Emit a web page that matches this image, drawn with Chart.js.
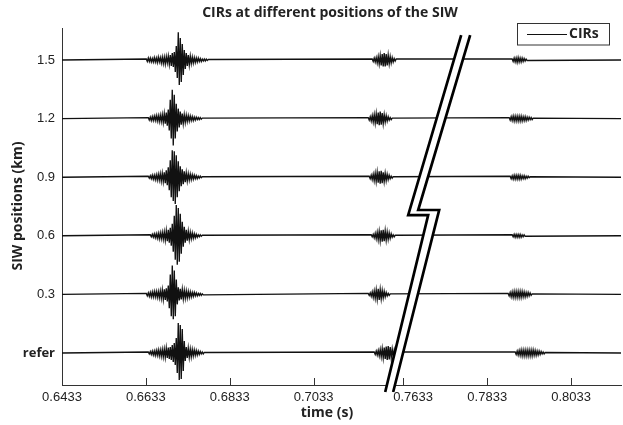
<!DOCTYPE html>
<html><head><meta charset="utf-8">
<script src="https://cdn.jsdelivr.net/npm/chart.js@4/dist/chart.umd.min.js"></script>
<style>html,body{margin:0;padding:0;background:#fff}canvas{display:block}</style>
</head><body>
<canvas id="c" width="623" height="425"></canvas>
<script>
// ---------- text ----------
const titleText = 'CIRs at different positions of the SIW';
const xTitle = 'time (s)';
const yTitle = 'SIW positions (km)';
const legendLabel = 'CIRs';

// ---------- axes ----------
const xTickValues = [0.6433, 0.6633, 0.6833, 0.7033, 0.7633, 0.7833, 0.8033];
const xTickLabels = ['0.6433', '0.6633', '0.6833', '0.7033', '0.7633', '0.7833', '0.8033'];
const yTickValues = [0, 0.3, 0.6, 0.9, 1.2, 1.5];
const yTickLabels = ['refer', '0.3', '0.6', '0.9', '1.2', '1.5'];
const timeStart = 0.6433, timeEnd = 0.8152;   // s
const breakFrom = 0.7247, breakTo = 0.7633;   // broken time axis (s)
const yMin = -0.164, yMax = 1.664;

// ---------- traces (order = yTickValues: refer, 0.3, 0.6, 0.9, 1.2, 1.5) ----------
const sampleDt = 0.0002384;   // s between samples
const ampGain = 0.0051;       // km per amplitude unit
const positions = [0, 0.3, 0.6, 0.9, 1.2, 1.5];

const mainStart = [0.66387, 0.66340, 0.66435, 0.66387, 0.66387, 0.66340];
const mainRef = [1,-1,1.5,-1.5,2, -2,2,-2.5,2.5,-2.5, 3,-3,3,-3.5,3.5, -4,4,-4.5,5,-5, 5.5,-6,6,-7,8, -9,10,-12,15, -20,30, -27,28,-26, 24,-18,12,-8, 6,-5,5,-4.5,4, -4,3.5,-3,3,-2.5, 2.5,-2,2,-1.5,1.5, -1,1,-1,0.5];
const main03 = [1,-1.5,1.5,-2,2, -2.5,2.5,-2.5,3,-2.5, 3,-3,3,-3.5,3.5, -4,4.5,-5,5,-5.5, 6,-7,9, -14,20,-22,29, -25,24,-22, 15,-10,7,-6,5.5, -5,5,-4.5,4,-4, 3.5,-3.5,3,-3,2.5, -2.5,2,-2,2,-1.5, 1.5,-1.5,1,-1,1, -1,0.5,-0.5];
const main06 = [1,-1,1.5,-1.5,2, -2,2,-2.5,2.5,-3, 3,-3,3.5,-3.5,4, -4.5,5,-5.5,6,-7, 8,-10,12,-16,20, -24,31, -29,28,-26,22, -18,14,-11,9,-7, 6,-5,4.5,-4,3.5, -3,3,-2.5,2,-2, 1.5,-1.5,1,-1,1, -0.5,0.5];
const main09 = [1,-1,1.5,-1.5,2, -2,2,-2.5,2.5,-3, 3,-3,3.5,-4,4, -4.5,5,-6,7,-8, 10,-13,17,-20,27, -24,26,-27, 22,-20,16,-14,11, -9,8,-7,6,-5, 4.5,-4,3.5,-3,3, -2.5,2.5,-2,2,-1.5, 1.5,-1.5,1,-1,1, -0.5,0.5];
const main12 = [1,-1.5,1.5,-2,2, -2,2.5,-2,3,-2.5, 3,-3,3.5,-3,4, -4,5,-5,6,-7, 9,-12,19, -20,29, -27,24,-20, 15,-13,10,-9,7, -6,5,-5,4,-4, 3.5,-3,3,-2.5,2.5, -2,2,-2,1.5,-1.5, 1.5,-1,1,-1,1, -0.5,0.5];
const main15 = [1,-1.5,2,-1.5,2,-2,1.5,-2,2.5,-2, 2,-2.5,3,-2,2.5, -3,3,-3.5,3,-4, 3.5,-3,4,-4.5,5, -6,7,-7,8, -12, 14,-18,28,-25, 22,-22,16,-15,10, -9,7,-6,5,-5, 4,-3.5,3,-3,2.5, -2.5,2,-2,2,-1.5, 1.5,-1.5,1,-1,1, -1,1,-0.5,0.5];

const echoStart = [0.71775, 0.71632, 0.71703, 0.71655, 0.71632, 0.71727];
const echoRef = [1,-1.5,2,-2,2.5,-3,3.5,-4,4.5,-5,5.5,-6,6.5,-7,7,-6.5,6,-5,4,-3.5,3,-2.5,2,-1.5,1];
const echo03 = [1,-1,1.5,-2,2.5,-3,3.5,-4,4.5,-5,5.5,-5.5,5,-4.5,4,-3.5,3,-2.5,2,-1.5,1,-1,0.5];
const echo06 = [1,-1,1.5,-2,2.5,-3,3.5,-4,4.5,-5,5.5,-6,6,-5.5,5,-4.5,4,-3.5,3,-2.5,2,-1.5,1,-1,0.5];
const echo09 = [1,-1.5,2,-2.5,3,-3.5,4,-4.5,5,-5.5,6,-6.5,6.5,-6,5,-4.5,4,-3.5,3,-2.5,2,-1.5,1,-1,0.5];
const echo12 = [1,-1.5,2,-2.5,3,-3.5,4,-4.5,5,-5.5,6,-6.5,7,-6,5.5,-5,4,-3.5,3,-2.5,2,-1.5,1,-1,0.5];
const echo15 = [1,-1.5,2,-2,2.5,-3,3.5,-4,4.5,-5.5,6,-6.5,7,-6.5,6,-5.5,5,-4,3.5,-3,2.5,-2,1.5,-1,1];

const lateStart = [0.78996, 0.78829, 0.78924, 0.78877, 0.78853, 0.78924];
const lateRef = [1,-1.5,2,-2,2.5,-2.5,3,-3,3,-3,3,-3,3,-3,3,-3,3,-3,3,-2.5,2.5,-2.5,2,-2,2,-1.5,1.5,-1,1,-1,0.5];
const late03 = [1,-1.5,2,-2.5,2.5,-3,3,-3,3,-3,3,-3,3,-3,3,-2.5,2.5,-2.5,2,-2,2,-1.5,1.5,-1,0.5];
const late06 = [1,-1,1.5,-1.5,1.5,-1.5,1.5,-1.5,1.5,-1.5,1,-1,1,-0.5];
const late09 = [1,-1.5,1.5,-2,2,-2,2,-2,2,-2,2,-2,1.5,-1.5,1.5,-1.5,1,-1,1,-0.5,0.5];
const late12 = [1,-1.5,2,-2,2.5,-2.5,2.5,-2.5,2.5,-2.5,2.5,-2.5,2.5,-2.5,2,-2,2,-2,1.5,-1.5,1.5,-1,1,-1,0.5];
const late15 = [1,-1.5,2,-2,2,-2.5,2.5,-2,2,-2,2,-1.5,1.5,-1,1,-0.5];

// break mark, in axis units (x: plotted time axis, y: km)
const breakLeftX  = [0.73849, 0.72585, 0.73062, 0.72037];
const breakLeftY  = [1.628, 0.706, 0.706, -0.200];
const breakRightX = [0.74063, 0.72824, 0.73324, 0.72227];
const breakRightY = [1.628, 0.732, 0.732, -0.200];

// ---------- build ----------
function toAxis(t) { return t >= breakTo ? t - (breakTo - breakFrom) : t; }
const mains = [mainRef, main03, main06, main09, main12, main15];
const echoes = [echoRef, echo03, echo06, echo09, echo12, echo15];
const lates = [lateRef, late03, late06, late09, late12, late15];

function buildTrace(k) {
  const off = positions[k];
  const pts = [{x: toAxis(timeStart), y: off}];
  [[mainStart[k], mains[k]], [echoStart[k], echoes[k]], [lateStart[k], lates[k]]].forEach(([t0, s]) => {
    s.forEach((a, i) => pts.push({x: toAxis(t0 + i * sampleDt), y: off + a * ampGain}));
  });
  pts.push({x: toAxis(timeEnd), y: off});
  return pts;
}

const datasets = positions.map((p, k) => ({
  label: legendLabel,
  data: buildTrace(k),
  borderColor: '#111',
  borderWidth: 1.35,
  pointRadius: 0,
  fill: false,
  tension: 0
}));

const FONT = 'Liberation Sans';
const BOLD = "'Open Sans', 'DejaVu Sans', sans-serif";
const TEXT = '#222';

const overlay = {
  id: 'overlay',
  afterDraw(chart) {
    const {ctx, chartArea, scales: {x, y}} = chart;
    ctx.save();
    // inward tick marks on the time axis
    ctx.strokeStyle = '#333'; ctx.lineWidth = 1;
    xTickValues.forEach(v => {
      const px = Math.round(x.getPixelForValue(toAxis(v))) + 0.5;
      ctx.beginPath(); ctx.moveTo(px, chartArea.bottom); ctx.lineTo(px, chartArea.bottom - 7); ctx.stroke();
    });
    // axis break mark
    const L = breakLeftX.map((v, i) => [x.getPixelForValue(v), y.getPixelForValue(breakLeftY[i])]);
    const R = breakRightX.map((v, i) => [x.getPixelForValue(v), y.getPixelForValue(breakRightY[i])]);
    ctx.beginPath();
    L.forEach((p, i) => i ? ctx.lineTo(p[0], p[1]) : ctx.moveTo(p[0], p[1]));
    R.slice().reverse().forEach(p => ctx.lineTo(p[0], p[1]));
    ctx.closePath(); ctx.fillStyle = '#fff'; ctx.fill();
    ctx.strokeStyle = '#000'; ctx.lineWidth = 2.7; ctx.lineJoin = 'miter';
    [L, R].forEach(P => { ctx.beginPath(); P.forEach((p, i) => i ? ctx.lineTo(p[0], p[1]) : ctx.moveTo(p[0], p[1])); ctx.stroke(); });
    // legend
    ctx.fillStyle = '#fff'; ctx.fillRect(517.5, 23.5, 92, 21.5);
    ctx.strokeStyle = '#333'; ctx.lineWidth = 1; ctx.strokeRect(517.5, 23.5, 92, 21.5);
    ctx.strokeStyle = '#111'; ctx.beginPath(); ctx.moveTo(527, 34.5); ctx.lineTo(567, 34.5); ctx.stroke();
    ctx.fillStyle = TEXT; ctx.font = 'bold 14px ' + BOLD; ctx.textAlign = 'left'; ctx.textBaseline = 'middle';
    ctx.fillText(legendLabel, 569, 34.5);
    // titles
    ctx.textAlign = 'center';
    ctx.font = 'bold 14px ' + BOLD;
    ctx.fillText(titleText, 330, 13);
    ctx.fillText(xTitle, 327, 413);
    ctx.translate(18, 206); ctx.rotate(-Math.PI / 2);
    ctx.fillText(yTitle, 0, 0);
    ctx.restore();
  }
};

new Chart(document.getElementById('c'), {
  type: 'line',
  data: {datasets},
  options: {
    responsive: false,
    animation: false,
    events: [],
    layout: {padding: {top: 28, right: 2, left: 0, bottom: 0}},
    plugins: {legend: {display: false}, title: {display: false}, tooltip: {enabled: false}},
    scales: {
      x: {
        type: 'linear', bounds: 'data',
        min: toAxis(timeStart), max: toAxis(timeEnd),
        grid: {display: false, drawTicks: false},
        border: {display: true, color: '#333', width: 1},
        afterFit: s => { s.height = 40; },
        afterBuildTicks: s => { s.ticks = xTickValues.map(v => ({value: toAxis(v)})); },
        ticks: {
          autoSkip: false, maxRotation: 0, padding: 5, color: TEXT,
          font: {family: FONT, size: 13},
          callback: (v, i) => (xTickValues[i] >= breakTo && xTickValues[i - 1] < breakTo ? '\u2002\u2002\u2002' : '') + xTickLabels[i]
        }
      },
      y: {
        type: 'linear', bounds: 'data', min: yMin, max: yMax,
        grid: {display: false, drawTicks: false},
        border: {display: true, color: '#333', width: 1},
        afterFit: s => { s.width = 62; },
        afterBuildTicks: s => { s.ticks = yTickValues.map(v => ({value: v})); },
        ticks: {
          autoSkip: false, padding: 7, color: TEXT,
          font: ctx => ({family: ctx.index === 0 ? BOLD : FONT, size: 13, weight: ctx.index === 0 ? 'bold' : 'normal'}),
          callback: (v, i) => yTickLabels[i]
        }
      }
    }
  },
  plugins: [overlay]
});
</script>
</body></html>
